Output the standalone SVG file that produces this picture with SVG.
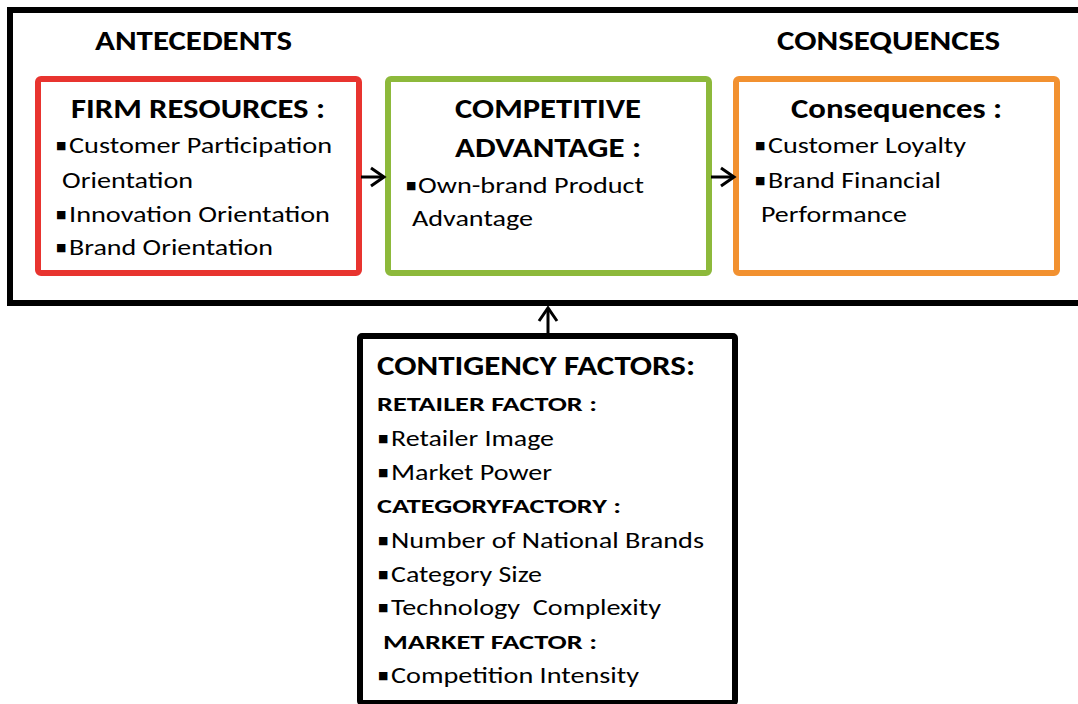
<svg xmlns="http://www.w3.org/2000/svg" width="1078" height="704" viewBox="0 0 1078 704">
  <style>
    .h { font-family: Carlito, Lato, "Open Sans", "Liberation Sans", sans-serif; font-weight: 700; font-size: 28px; fill: #000; }
    .s { font-family: Carlito, Lato, "Open Sans", "Liberation Sans", sans-serif; font-weight: 700; font-size: 21px; fill: #000; }
    .t { font-family: Carlito, Lato, "Open Sans", "Liberation Sans", sans-serif; font-size: 22px; fill: #000; white-space: pre; }
    .b { font-family: "DejaVu Sans", sans-serif; font-size: 11px; fill: #000; }
    .mid { text-anchor: middle; }
    .frame { fill: none; stroke: #000; stroke-width: 6; }
    .box { fill: #fff; stroke-width: 6; }
    .link { fill: none; stroke: #000; stroke-width: 3; }
    .head { fill: none; stroke: #000; stroke-width: 3; stroke-linejoin: miter; }
  </style>

  <rect width="1078" height="704" fill="#fff"/>

  <!-- outer frame around the antecedent / consequence chain -->
  <g id="frame">
    <rect class="frame" x="10" y="10" width="1080" height="293"/>
    <text class="h mid" x="193.5" y="50" textLength="197" lengthAdjust="spacingAndGlyphs">ANTECEDENTS</text>
    <text class="h mid" x="888.5" y="50" textLength="223" lengthAdjust="spacingAndGlyphs">CONSEQUENCES</text>
  </g>

  <!-- firm resources -->
  <g id="firm-resources">
    <rect class="box" x="38" y="79" width="321" height="194" rx="3" stroke="#E8342F"/>
    <text class="h mid" x="198" y="118" textLength="254" lengthAdjust="spacingAndGlyphs">FIRM RESOURCES :</text>
    <text class="b" x="56" y="149">■</text>
    <text class="t" x="69" y="153" textLength="263" lengthAdjust="spacingAndGlyphs">Customer Participation</text>
    <text class="t" x="62" y="188" textLength="131" lengthAdjust="spacingAndGlyphs">Orientation</text>
    <text class="b" x="56" y="218">■</text>
    <text class="t" x="69" y="222" textLength="261" lengthAdjust="spacingAndGlyphs">Innovation Orientation</text>
    <text class="b" x="56" y="251">■</text>
    <text class="t" x="69" y="255" textLength="204" lengthAdjust="spacingAndGlyphs">Brand Orientation</text>
  </g>

  <!-- competitive advantage -->
  <g id="competitive-advantage">
    <rect class="box" x="388" y="79" width="321" height="194" rx="3" stroke="#8DB93B"/>
    <text class="h mid" x="548" y="118" textLength="186" lengthAdjust="spacingAndGlyphs">COMPETITIVE</text>
    <text class="h mid" x="548" y="157" textLength="186" lengthAdjust="spacingAndGlyphs">ADVANTAGE :</text>
    <text class="b" x="406" y="189">■</text>
    <text class="t" x="418" y="193" textLength="226" lengthAdjust="spacingAndGlyphs">Own-brand Product</text>
    <text class="t" x="412" y="226" textLength="121" lengthAdjust="spacingAndGlyphs">Advantage</text>
  </g>

  <!-- consequences -->
  <g id="consequences">
    <rect class="box" x="736" y="79" width="321" height="194" rx="3" stroke="#F29130"/>
    <text class="h mid" x="896.5" y="118" textLength="211" lengthAdjust="spacingAndGlyphs">Consequences :</text>
    <text class="b" x="755" y="149">■</text>
    <text class="t" x="768" y="153" textLength="198" lengthAdjust="spacingAndGlyphs">Customer Loyalty</text>
    <text class="b" x="755" y="184">■</text>
    <text class="t" x="768" y="188" textLength="173" lengthAdjust="spacingAndGlyphs">Brand Financial</text>
    <text class="t" x="761" y="222" textLength="146" lengthAdjust="spacingAndGlyphs">Performance</text>
  </g>

  <!-- contingency factors -->
  <g id="contingency-factors">
    <rect class="box" x="360" y="336" width="375" height="367" rx="2" stroke="#000"/>
    <text class="h" x="377" y="375" textLength="318" lengthAdjust="spacingAndGlyphs">CONTIGENCY FACTORS:</text>
    <text class="s" x="377" y="411" textLength="220" lengthAdjust="spacingAndGlyphs">RETAILER FACTOR :</text>
    <text class="b" x="378" y="442">■</text>
    <text class="t" x="391" y="446" textLength="163" lengthAdjust="spacingAndGlyphs">Retailer Image</text>
    <text class="b" x="378" y="476">■</text>
    <text class="t" x="391" y="480" textLength="161" lengthAdjust="spacingAndGlyphs">Market Power</text>
    <text class="s" x="377" y="513" textLength="244" lengthAdjust="spacingAndGlyphs">CATEGORYFACTORY :</text>
    <text class="b" x="378" y="544">■</text>
    <text class="t" x="391" y="548" textLength="313" lengthAdjust="spacingAndGlyphs">Number of National Brands</text>
    <text class="b" x="378" y="578">■</text>
    <text class="t" x="391" y="582" textLength="151" lengthAdjust="spacingAndGlyphs">Category Size</text>
    <text class="b" x="378" y="611">■</text>
    <text class="t" x="391" y="615" textLength="270" lengthAdjust="spacingAndGlyphs">Technology  Complexity</text>
    <text class="s" x="383" y="649" textLength="214" lengthAdjust="spacingAndGlyphs">MARKET FACTOR :</text>
    <text class="b" x="378" y="679">■</text>
    <text class="t" x="391" y="683" textLength="248" lengthAdjust="spacingAndGlyphs">Competition Intensity</text>
  </g>

  <!-- connectors: shafts plus open chevron heads -->
  <g id="connectors">
    <line class="link" x1="361" y1="177" x2="384" y2="177"/>
    <path class="head" d="M 371 168 L 384 177 L 371 186"/>
    <line class="link" x1="711" y1="177" x2="734" y2="177"/>
    <path class="head" d="M 721 168 L 734 177 L 721 186"/>
    <line class="link" x1="548" y1="333" x2="548" y2="308"/>
    <path class="head" d="M 539 321 L 548 308 L 557 321"/>
  </g>
</svg>
